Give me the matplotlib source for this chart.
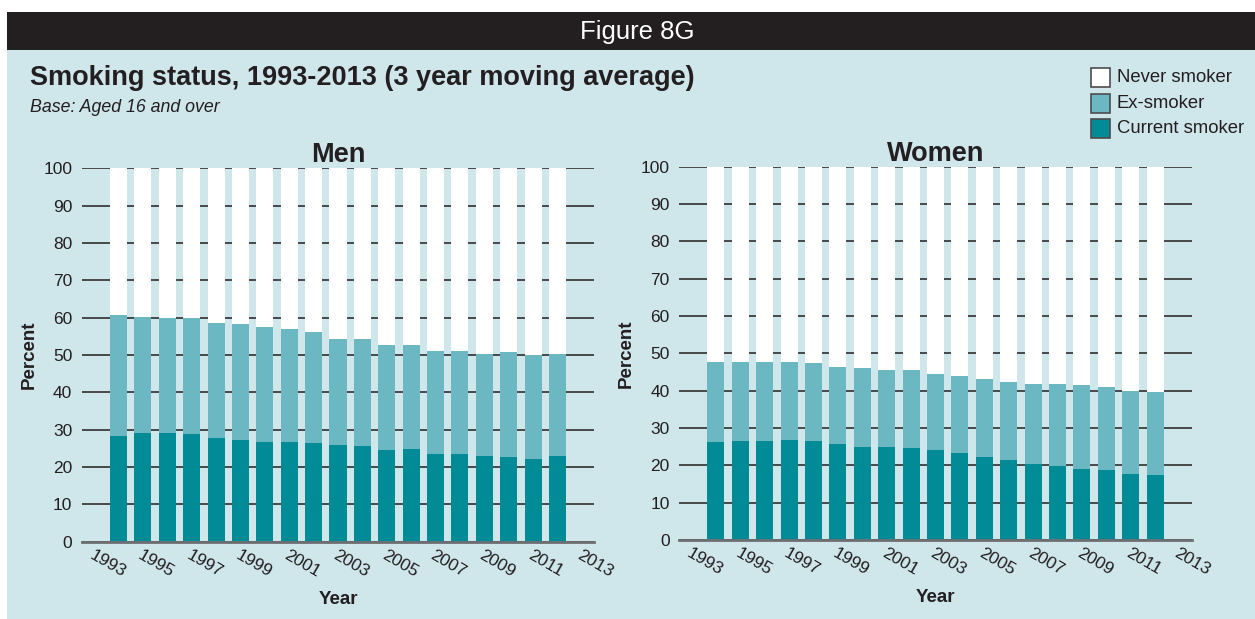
import numpy as np
import matplotlib
matplotlib.use("Agg")
import matplotlib.pyplot as plt
from matplotlib.patches import Rectangle

plt.rcParams['font.family'] = ['Liberation Sans', 'DejaVu Sans']

# bar years (centre of 3 year moving average)
years = list(range(1994, 2013))
tick_years = list(range(1993, 2014, 2))

men_current = [28.4, 29.2, 29.2, 28.9, 27.8, 27.3, 26.8, 26.8, 26.5, 26.0,
               25.7, 24.6, 24.9, 23.5, 23.5, 23.0, 22.7, 22.2, 23.0]
men_ex = [32.2, 30.9, 30.6, 30.9, 30.9, 30.9, 30.6, 30.1, 29.6, 28.4,
          28.5, 28.2, 27.7, 27.7, 27.7, 27.4, 28.0, 27.7, 27.4]
men_never = [39.4, 39.9, 40.2, 40.2, 41.3, 41.8, 42.6, 43.1, 43.9, 45.6,
             45.8, 47.2, 47.4, 48.8, 48.8, 49.6, 49.3, 50.1, 49.6]

women_current = [26.3, 26.6, 26.6, 26.9, 26.6, 25.8, 25.0, 25.0, 24.7, 24.2,
                 23.4, 22.3, 21.5, 20.4, 19.9, 19.1, 18.8, 17.8, 17.5]
women_ex = [21.5, 21.2, 21.2, 20.9, 20.9, 20.6, 21.2, 20.6, 20.9, 20.4,
            20.4, 20.9, 20.9, 21.5, 22.0, 22.5, 22.3, 22.2, 22.2]
women_never = [52.2, 52.2, 52.2, 52.2, 52.5, 53.6, 53.8, 54.4, 54.4, 55.4,
               56.2, 56.8, 57.6, 58.1, 58.1, 58.4, 58.9, 60.0, 60.3]

series_names = ['Never smoker', 'Ex-smoker', 'Current smoker']
c_current = '#008b96'
c_ex = '#6bb8c3'
c_never = '#ffffff'
bg = '#cfe6eb'
dark = '#231f20'

W, H = 1255, 619
fig = plt.figure(figsize=(W / 100, H / 100), dpi=100, facecolor='white')

# background panels
fig.add_artist(Rectangle((7 / W, 0), 1 - 7 / W, (H - 50) / H, transform=fig.transFigure,
                         facecolor=bg, edgecolor='none', zorder=0))
fig.add_artist(Rectangle((7 / W, (H - 50) / H), 1 - 7 / W, 38 / H, transform=fig.transFigure,
                         facecolor=dark, edgecolor='none', zorder=0))
fig.text(637 / W, 1 - 32 / H, 'Figure 8G', color='white', fontsize=18.5, ha='center', va='center')
fig.text(30 / W, 1 - 78 / H, 'Smoking status, 1993-2013 (3 year moving average)',
         fontsize=19.5, fontweight='bold', color=dark, ha='left', va='center')
fig.text(30 / W, 1 - 108 / H, 'Base: Aged 16 and over', fontsize=12.8, style='italic',
         color=dark, ha='left', va='center')


def draw_panel(rect, current, ex, never, title):
    ax = fig.add_axes(rect)
    ax.set_facecolor('none')
    x = np.array(years)
    ax.bar(x, current, width=0.7, color=c_current, zorder=3)
    ax.bar(x, ex, width=0.7, bottom=current, color=c_ex, zorder=3)
    ax.bar(x, never, width=0.7, bottom=np.array(current) + np.array(ex), color=c_never, zorder=3)
    ax.set_xlim(1992.5, 2013.5)
    ax.set_ylim(0, 100)
    ax.set_yticks(range(0, 101, 10))
    ax.yaxis.grid(True, color='#3c3c3c', linewidth=1.3, zorder=1)
    ax.set_axisbelow(True)
    for s in ['top', 'right', 'left']:
        ax.spines[s].set_visible(False)
    ax.spines['bottom'].set_color('#6d6e71')
    ax.spines['bottom'].set_linewidth(2)
    ax.spines['bottom'].set_zorder(4)
    ax.tick_params(axis='y', length=0, pad=7, labelsize=12.5, labelcolor=dark)
    ax.set_xticks(tick_years)
    ax.set_xticklabels([str(y) for y in tick_years], rotation=-30, ha='left', va='top',
                       rotation_mode='anchor', fontsize=12.5, color=dark)
    ax.tick_params(axis='x', length=0, pad=4)
    ax.set_title(title, fontsize=19.5, fontweight='bold', color=dark, pad=1)
    ax.set_xlabel('Year', fontsize=13.5, fontweight='bold', color=dark, labelpad=8)
    ax.set_ylabel('Percent', fontsize=13.5, fontweight='bold', color=dark)
    ax.yaxis.set_label_coords(-0.086, 0.5)
    return ax


ax1 = draw_panel([82 / W, 1 - 541.7 / H, 512 / W, 373.4 / H],
                 men_current, men_ex, men_never, 'Men')
ax2 = draw_panel([679.3 / W, 1 - 540 / H, 512.4 / W, 373.3 / H],
                 women_current, women_ex, women_never, 'Women')

# legend
colors = [c_never, c_ex, c_current]
for i, (name, col) in enumerate(zip(series_names, colors)):
    yc = 77.5 + i * 25.5
    fig.add_artist(Rectangle((1091 / W, 1 - (yc + 9.5) / H), 19 / W, 19 / H,
                             transform=fig.transFigure, facecolor=col,
                             edgecolor='#4d4d4f', linewidth=1.2, zorder=2))
    fig.text(1117 / W, 1 - yc / H, name, fontsize=13.3, color=dark, ha='left', va='center')

fig.savefig('out.png', dpi=100, facecolor='white')
